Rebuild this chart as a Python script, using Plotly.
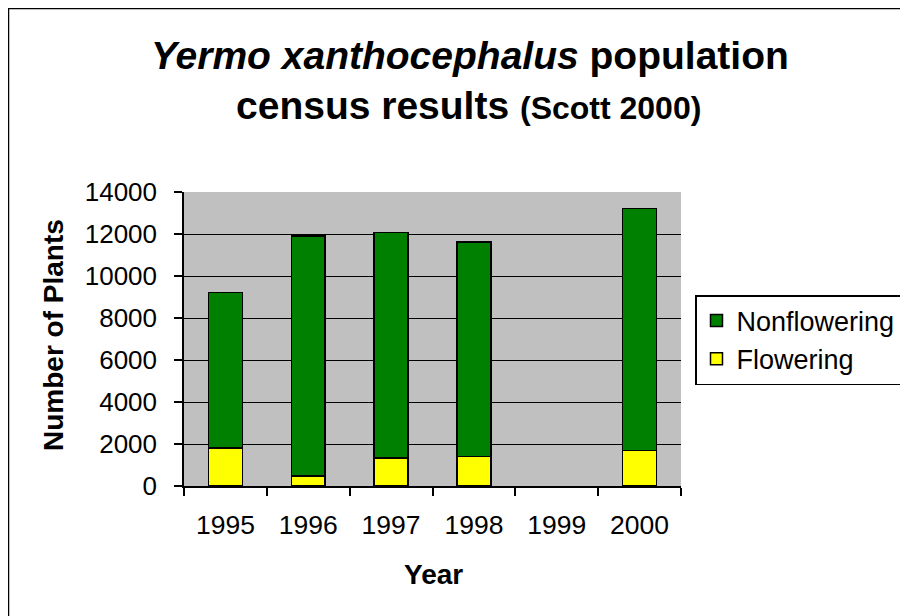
import plotly.graph_objects as go

years = ["1995", "1996", "1997", "1998", "1999", "2000"]
flowering = [1810, 476, 1333, 1413, None, 1698]
nonflowering = [7412, 11429, 10746, 10206, None, 11524]
y_ticks = [0, 2000, 4000, 6000, 8000, 10000, 12000, 14000]

# page body has an 8px margin, so work in reference pixels minus 8
OFF = 8
W, H = 908 - OFF, 616 - OFF
L, R, T, B = 184 - OFF, 681 - OFF, 192 - OFF, 486 - OFF

def px(x):
    return (x - OFF - L) / (R - L)

def py(y):
    return (B - (y - OFF)) / (B - T)

fig = go.Figure()
fig.add_trace(go.Bar(x=years, y=flowering, name="Flowering",
                     marker=dict(color="#FFFF00", line=dict(color="black", width=1.5))))
fig.add_trace(go.Bar(x=years, y=nonflowering, name="Nonflowering",
                     marker=dict(color="#008000", line=dict(color="black", width=1.5))))

fig.update_layout(
    width=W, height=H,
    margin=dict(l=L, r=W - R, t=T, b=H - B, pad=0, autoexpand=False),
    barmode="stack", bargap=0.59,
    paper_bgcolor="white", plot_bgcolor="#C0C0C0",
    font=dict(family="Liberation Sans, Arial, sans-serif", color="black", size=27),
    showlegend=True,
    legend=dict(x=px(695), y=py(295), xanchor="left", yanchor="top",
                bordercolor="black", borderwidth=1.5, bgcolor="white",
                traceorder="reversed", font=dict(size=27)),
    xaxis=dict(type="category", showline=True, linecolor="black", linewidth=1.5,
               ticks="outside", ticklen=8, tickwidth=1.5, tickcolor="black",
               tickson="boundaries", showgrid=False, tickfont=dict(size=26.5),
               ticklabelstandoff=14),
    yaxis=dict(range=[0, 14000], tickvals=y_ticks, ticktext=[str(v) for v in y_ticks],
               showline=True, linecolor="black", linewidth=1.5,
               ticks="outside", ticklen=8, tickwidth=1.5, tickcolor="black",
               showgrid=True, gridcolor="black", gridwidth=1, zeroline=False,
               tickfont=dict(size=26), ticklabelstandoff=12),
)

fig.add_annotation(x=px(470), y=py(55), xref="paper", yref="paper", showarrow=False,
                   text="<b><i>Yermo xanthocephalus</i> population</b>",
                   font=dict(size=39), xanchor="center", yanchor="middle")
fig.add_annotation(x=px(468), y=py(106), xref="paper", yref="paper", showarrow=False,
                   text="<b>census results <span style='font-size:32px'>(Scott 2000)</span></b>",
                   font=dict(size=39), xanchor="center", yanchor="middle")
fig.add_annotation(x=px(53), y=py(335), xref="paper", yref="paper", showarrow=False,
                   text="<b>Number of Plants</b>", textangle=-90,
                   font=dict(size=28), xanchor="center", yanchor="middle")
fig.add_annotation(x=px(433), y=py(574), xref="paper", yref="paper", showarrow=False,
                   text="<b>Year</b>", font=dict(size=28), xanchor="center", yanchor="middle")

fig.add_shape(type="rect", xref="paper", yref="paper",
              x0=px(8.5), x1=px(930), y0=py(640), y1=py(8.5),
              line=dict(color="black", width=1.5), fillcolor="rgba(0,0,0,0)", layer="below")

fig.write_html("out.html")
